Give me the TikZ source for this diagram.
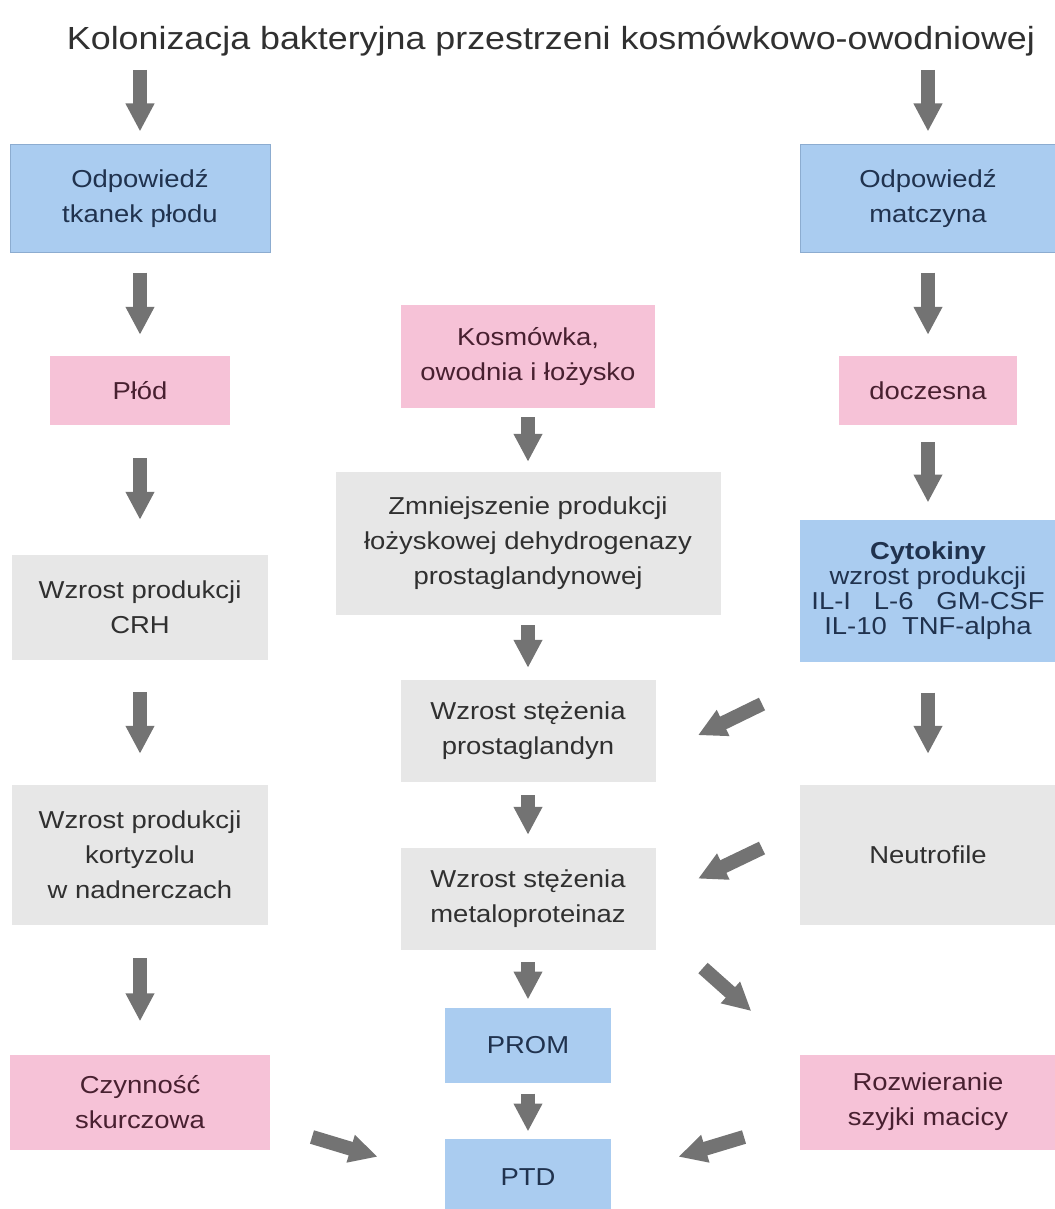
\documentclass[tikz,border=0pt]{standalone}
\usepackage{fontspec}
\setmainfont[FakeStretch=1.12]{Liberation Sans}
\usetikzlibrary{arrows.meta}

\definecolor{boxblue}{RGB}{170,204,240}
\definecolor{lineblue}{RGB}{140,172,208}
\definecolor{boxpink}{RGB}{246,194,215}
\definecolor{boxgrey}{RGB}{231,231,231}
\definecolor{flowgrey}{RGB}{115,115,115}
\definecolor{txtblue}{RGB}{32,50,78}
\definecolor{txtpink}{RGB}{72,32,48}
\definecolor{txtgrey}{RGB}{48,48,48}

\begin{document}
\begin{tikzpicture}[x=1pt,y=-1pt,
	box/.style={inner sep=0pt,align=center,font=\fontsize{24.5}{35}\selectfont},
	bluebox/.style={box,fill=boxblue,draw=lineblue,line width=1pt,text=txtblue},
	pinkbox/.style={box,fill=boxpink,text=txtpink},
	greybox/.style={box,fill=boxgrey,text=txtgrey},
	flow/.style={draw=flowgrey,line width=14pt,-{Triangle[width=27pt,length=28pt]}}]

	\useasboundingbox (0,0) rectangle (1054,1209);

	\node[anchor=base,text=txtgrey,font=\fontsize{32}{38}\selectfont] (title) at (551,50) {Kolonizacja bakteryjna przestrzeni kosmówkowo-owodniowej};

	\coordinate (tl) at (140,70);
	\coordinate (tr) at (928,70);

	\node[bluebox,minimum width=260,minimum height=107] (fresp) at (140,198.5) {Odpowiedź\\tkanek płodu};
	\node[pinkbox,minimum width=180,minimum height=69] (plod) at (140,390.5) {Płód};
	\node[greybox,minimum width=256,minimum height=105] (crh) at (140,607.5) {Wzrost produkcji\\CRH};
	\node[greybox,minimum width=256,minimum height=140] (kort) at (140,855) {Wzrost produkcji\\kortyzolu\\w nadnerczach};
	\node[pinkbox,minimum width=260,minimum height=95] (skurcz) at (140,1102) {Czynność\\skurczowa};

	\node[pinkbox,minimum width=254,minimum height=103] (kosm) at (528,356.5) {Kosmówka,\\owodnia i łożysko};
	\node[greybox,minimum width=385,minimum height=143] (zmn) at (528,543.5) {Zmniejszenie produkcji\\łożyskowej dehydrogenazy\\prostaglandynowej};
	\node[greybox,minimum width=255,minimum height=102] (prost) at (528,731) {Wzrost stężenia\\prostaglandyn};
	\node[greybox,minimum width=255,minimum height=102] (metal) at (528,899) {Wzrost stężenia\\metaloproteinaz};
	\node[bluebox,draw=none,minimum width=166,minimum height=75] (prom) at (528,1045.5) {PROM};
	\node[bluebox,draw=none,minimum width=166,minimum height=76] (ptd) at (528,1177) {PTD};

	\node[bluebox,minimum width=256,minimum height=107] (mresp) at (928,198.5) {Odpowiedź\\matczyna};
	\node[pinkbox,minimum width=178,minimum height=69] (docz) at (928,390.5) {doczesna};
	\node[bluebox,draw=none,minimum width=256,minimum height=142,font=\fontsize{24.5}{25}\selectfont] (cyto) at (928,591) {\textbf{Cytokiny}\\wzrost produkcji\\IL-I\ \ \ L-6\ \ \ GM-CSF\\IL-10\ \ TNF-alpha};
	\node[greybox,minimum width=256,minimum height=140] (neut) at (928,855) {Neutrofile};
	\node[pinkbox,minimum width=256,minimum height=95] (rozw) at (928,1102) {Rozwieranie\\szyjki macicy};

	\coordinate (c1) at (762,704);
	\coordinate (c2) at (762,848);
	\coordinate (c3) at (703,968);
	\coordinate (c4) at (312,1137);
	\coordinate (c5) at (744,1137);

	\draw[flow,shorten >=13pt] (tl) -- (fresp);
	\draw[flow,shorten <=20pt,shorten >=21pt] (fresp) -- (plod);
	\draw[flow,shorten <=33pt,shorten >=35pt] (plod) -- (crh);
	\draw[flow,shorten <=32pt,shorten >=31pt] (crh) -- (kort);
	\draw[flow,shorten <=33pt,shorten >=33pt] (kort) -- (skurcz);

	\draw[flow,shorten <=9pt,shorten >=10pt] (kosm) -- (zmn);
	\draw[flow,shorten <=10pt,shorten >=12pt] (zmn) -- (prost);
	\draw[flow,shorten <=13pt,shorten >=13pt] (prost) -- (metal);
	\draw[flow,shorten <=12pt,shorten >=8pt] (metal) -- (prom);
	\draw[flow,shorten <=10pt,shorten >=7pt] (prom) -- (ptd);

	\draw[flow,shorten >=13pt] (tr) -- (mresp);
	\draw[flow,shorten <=20pt,shorten >=21pt] (mresp) -- (docz);
	\draw[flow,shorten <=17pt,shorten >=17pt] (docz) -- (cyto);
	\draw[flow,shorten <=30pt,shorten >=31pt] (cyto) -- (neut);

	\draw[flow,shorten >=47pt] (c1) -- (prost.-11);
	\draw[flow,shorten >=47pt] (c2) -- (metal.east);
	\draw[flow,shorten >=65pt] (c3) -- (rozw.north west);
	\draw[flow,shorten >=70pt] (c4) -- (ptd.west);
	\draw[flow,shorten >=70pt] (c5) -- (ptd.east);

\end{tikzpicture}
\end{document}
